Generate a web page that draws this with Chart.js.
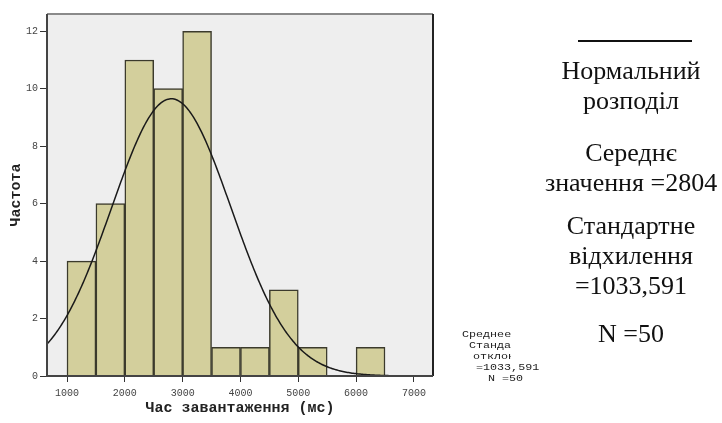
<!DOCTYPE html>
<html>
<head>
<meta charset="utf-8">
<script src="https://cdn.jsdelivr.net/npm/chart.js@4"></script>
<style>
  body { margin: 0; background: #fff; }
  #wrap { position: relative; width: 722px; height: 423px; }
  #chart { position: absolute; left: 0; top: 0; }
  .legend { position: absolute; left: 534px; top: 0; width: 194px; text-align: center;
    font-family: "Liberation Serif", "Times New Roman", serif; font-size: 26px; color: #111; line-height: 30px; }
  .legend p { margin: 0; position: absolute; left: 0; width: 194px; white-space: nowrap; }
  .rule { position: absolute; left: 578px; top: 40px; width: 114px; height: 2px; background: #111; }
  .small { position: absolute; height: 11px; overflow: hidden; white-space: pre;
    font-family: "Liberation Mono", monospace; font-size: 9px; line-height: 11px; color: #222; }
  .small span { display: inline-block; transform: scaleX(1.3); transform-origin: left center; }
</style>
</head>
<body>
<div id="wrap">
  <canvas id="chart" width="722" height="423"></canvas>
  <div class="rule"></div>
  <div class="legend">
    <p style="top:56px">Нормальний<br>розподіл</p>
    <p style="top:138px">Середнє<br>значення =2804</p>
    <p style="top:211px">Стандартне<br>відхилення<br>=1033,591</p>
    <p style="top:319px">N =50</p>
  </div>
  <!-- narrow legend copy, cut off on the right -->
  <div class="small" style="left:462px; top:330px; width:49px"><span>Среднее</span></div>
  <div class="small" style="left:469px; top:341px; width:42px"><span>Стандартное</span></div>
  <div class="small" style="left:473px; top:352px; width:38px"><span>отклонение</span></div>
  <div class="small" style="left:476px; top:363px; width:70px"><span>=1033,591</span></div>
  <div class="small" style="left:488px; top:374px; width:40px"><span>N =50</span></div>
</div>
<script>
// histogram bins (500 ms wide), centre of each bin
const binCenters = [1250, 1750, 2250, 2750, 3250, 3750, 4250, 4750, 5250, 5750, 6250]
const counts = [4, 6, 11, 10, 12, 1, 1, 3, 1, 0, 1]
const xTicks = [1000, 2000, 3000, 4000, 5000, 6000, 7000]
const yTicks = [0, 2, 4, 6, 8, 10, 12]

const mean = 2804
const sd = 1033.591
const total = 50
const binWidth = 500

// fitted normal curve scaled to counts
let curve = []
for (let x = 650; x <= 7340; x += 20) {
    let z = (x - mean) / sd
    let y = total * binWidth / (sd * Math.sqrt(2 * Math.PI)) * Math.exp(-z * z / 2)
    curve.push({ x, y })
}

const frame = {
    id: 'frame',
    beforeDatasetsDraw(chart) {
        const { ctx, chartArea: a } = chart
        ctx.save()
        ctx.fillStyle = '#eeeeee'
        ctx.fillRect(a.left, a.top, a.right - a.left, a.bottom - a.top)
        ctx.restore()
    },
    afterDraw(chart) {
        const { ctx, chartArea: a } = chart
        ctx.save()
        ctx.lineWidth = 2
        ctx.strokeStyle = '#8a8a8a'
        ctx.beginPath()
        ctx.moveTo(a.left, a.top)
        ctx.lineTo(a.right, a.top)
        ctx.stroke()
        ctx.strokeStyle = '#222'
        ctx.beginPath()
        ctx.moveTo(a.right, a.top)
        ctx.lineTo(a.right, a.bottom)
        ctx.stroke()
        ctx.strokeStyle = '#444'
        ctx.beginPath()
        ctx.moveTo(a.left, a.top)
        ctx.lineTo(a.left, a.bottom)
        ctx.lineTo(a.right, a.bottom)
        ctx.stroke()
        ctx.restore()
    }
}

const tickFont = { family: 'Liberation Mono', size: 10 }
const titleFont = { family: 'Liberation Mono', size: 15, weight: 'bold' }

new Chart(document.getElementById('chart'), {
    data: {
        datasets: [{
            type: 'line',
            data: curve,
            borderColor: '#1a1a1a',
            borderWidth: 1.5,
            pointRadius: 0,
            tension: 0
        }, {
            type: 'bar',
            data: binCenters.map((c, i) => ({ x: c, y: counts[i] })),
            backgroundColor: '#d3cf9c',
            borderColor: '#3b3a2c',
            borderWidth: 1.5,
            borderSkipped: 'bottom',
            barPercentage: 1,
            categoryPercentage: 1,
            grouped: false
        }]
    },
    options: {
        responsive: false,
        animation: false,
        layout: { padding: { left: 0, top: 14, right: 289, bottom: 0 } },
        plugins: { legend: { display: false }, tooltip: { enabled: false } },
        scales: {
            x: {
                type: 'linear',
                offset: false,
                min: 654,
                max: 7330,
                afterBuildTicks: s => { s.ticks = xTicks.map(v => ({ value: v })) },
                afterFit: s => { s.height = 47 },
                grid: { drawOnChartArea: false, offset: false, tickLength: 6, color: '#333' },
                border: { display: false },
                ticks: { font: tickFont, color: '#444', padding: 5, maxRotation: 0, callback: v => String(v) },
                title: { display: true, text: 'Час завантаження (мс)', font: titleFont, color: '#222', padding: { top: 0, bottom: 6 } }
            },
            y: {
                min: 0,
                max: 12.6,
                afterBuildTicks: s => { s.ticks = yTicks.map(v => ({ value: v })) },
                afterFit: s => { s.width = 47 },
                grid: { drawOnChartArea: false, tickLength: 7, color: '#333' },
                border: { display: false },
                ticks: { font: tickFont, color: '#444', padding: 2 },
                title: { display: true, text: 'Частота', font: titleFont, color: '#222', padding: { top: 7, bottom: 0 } }
            }
        }
    },
    plugins: [frame]
})
</script>
</body>
</html>
